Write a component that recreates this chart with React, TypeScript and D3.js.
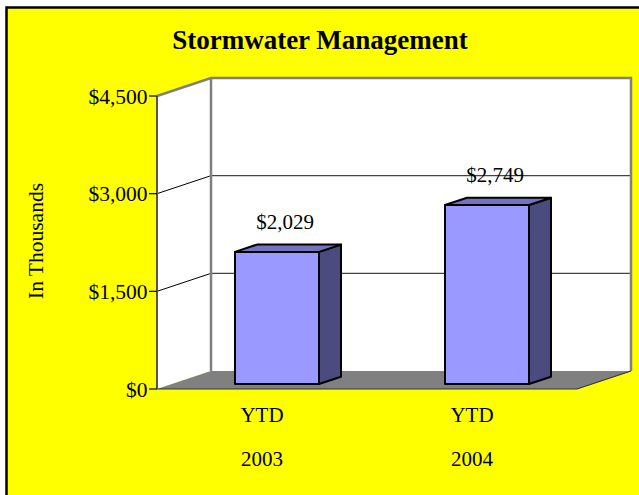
import React from "react";
import * as d3 from "d3";

const categories = ["YTD 2003", "YTD 2004"];
const categoryLines = [["YTD", "2003"], ["YTD", "2004"]];
const values = [2029, 2749];
const valueLabels = ["$2,029", "$2,749"];
const yTicks = [0, 1500, 3000, 4500];
const yTickLabels = ["$0", "$1,500", "$3,000", "$4,500"];
const title = "Stormwater Management";
const yTitle = "In Thousands";

const W = 639;
const H = 495;
const FONT = "'Liberation Serif', 'Times New Roman', serif";

export default function App() {
  const x = d3.scaleBand<string>().domain(categories).range([157, 577]);
  const y = d3.scaleLinear().domain([0, 4500]).range([389, 96]);
  const wall = { dx: 54, dy: -18 };
  const barOff = { dx: 15, dy: -5 };
  const barDepth = { dx: 22, dy: -7.3 };
  const bw = x.bandwidth() * 0.4;

  const y0 = y(0);
  const yTop = y(4500);
  const xl = x.range()[0];
  const xr = x.range()[1];

  const pts = (a: number[][]) => a.map((p) => p.join(",")).join(" ");

  return (
    <svg
      width={W}
      height={H}
      style={{ position: "absolute", left: 0, top: 0, background: "#ffffff" }}
      fontFamily={FONT}
    >
      <rect x={6.5} y={7.5} width={W} height={H} fill="#ffff00" stroke="#000" strokeWidth={2.5} />
      <text x={320} y={49} textAnchor="middle" fontSize={27} fontWeight="bold">
        {title}
      </text>

      {/* left wall */}
      <polygon
        points={pts([
          [xl, y0],
          [xl, yTop],
          [xl + wall.dx, yTop + wall.dy],
          [xl + wall.dx, y0 + wall.dy],
        ])}
        fill="#fff"
      />
      {/* back wall */}
      <rect
        x={xl + wall.dx}
        y={yTop + wall.dy}
        width={xr - xl}
        height={y0 - yTop}
        fill="#fff"
      />
      {/* floor */}
      <polygon
        points={pts([
          [xl, y0],
          [xr, y0],
          [xr + wall.dx, y0 + wall.dy],
          [xl + wall.dx, y0 + wall.dy],
        ])}
        fill="#808080"
      />
      {/* gridlines */}
      {yTicks
        .filter((t) => t > 0 && t < 4500)
        .map((t) => (
          <g key={t}>
            <line x1={xl} y1={y(t)} x2={xl + wall.dx} y2={y(t) + wall.dy} stroke="#000" strokeWidth={1} />
            <line
              x1={xl + wall.dx}
              y1={y(t) + wall.dy}
              x2={xr + wall.dx}
              y2={y(t) + wall.dy}
              stroke="#444"
              strokeWidth={1.2}
            />
          </g>
        ))}
      {/* wall edges */}
      <polyline
        points={pts([
          [xl, yTop],
          [xl + wall.dx, yTop + wall.dy],
          [xr + wall.dx, yTop + wall.dy],
          [xr + wall.dx, y0 + wall.dy],
        ])}
        fill="none"
        stroke="#808080"
        strokeWidth={2.5}
      />
      <line
        x1={xl + wall.dx}
        y1={yTop + wall.dy}
        x2={xl + wall.dx}
        y2={y0 + wall.dy}
        stroke="#808080"
        strokeWidth={2.5}
      />
      <polyline
        points={pts([
          [xl, y0],
          [xr, y0],
          [xr + wall.dx, y0 + wall.dy],
        ])}
        fill="none"
        stroke="#333"
        strokeWidth={1.2}
      />
      {/* axis */}
      <line x1={xl} y1={yTop} x2={xl} y2={y0} stroke="#555" strokeWidth={2} />
      {yTicks.map((t, i) => (
        <g key={t}>
          <line x1={xl - 8} y1={y(t)} x2={xl} y2={y(t)} stroke="#000" strokeWidth={1.2} />
          <text x={xl - 9.5} y={y(t)} dy="0.35em" textAnchor="end" fontSize={21.5}>
            {yTickLabels[i]}
          </text>
        </g>
      ))}

      {/* bars */}
      {categories.map((c, i) => {
        const fx = (x(c) as number) + x.bandwidth() / 2 - bw / 2 + barOff.dx;
        const ft = y(values[i]) + barOff.dy;
        const fb = y0 + barOff.dy;
        const fr = fx + bw;
        return (
          <g key={c} stroke="#000" strokeWidth={2} strokeLinejoin="round">
            <polygon
              points={pts([
                [fr, ft],
                [fr + barDepth.dx, ft + barDepth.dy],
                [fr + barDepth.dx, fb + barDepth.dy],
                [fr, fb],
              ])}
              fill="#4b4b80"
            />
            <polygon
              points={pts([
                [fx, ft],
                [fx + barDepth.dx, ft + barDepth.dy],
                [fr + barDepth.dx, ft + barDepth.dy],
                [fr, ft],
              ])}
              fill="#7373c0"
            />
            <rect x={fx} y={ft} width={bw} height={fb - ft} fill="#9999ff" />
            <text
              x={fx + bw / 2 + 8}
              y={ft - 23}
              textAnchor="middle"
              fontSize={21}
              stroke="none"
              fill="#000"
            >
              {valueLabels[i]}
            </text>
          </g>
        );
      })}

      {/* category labels */}
      {categories.map((c, i) => (
        <text
          key={c}
          x={(x(c) as number) + x.bandwidth() / 2}
          y={422}
          textAnchor="middle"
          fontSize={21}
        >
          <tspan x={(x(c) as number) + x.bandwidth() / 2}>{categoryLines[i][0]}</tspan>
          <tspan x={(x(c) as number) + x.bandwidth() / 2} dy={44}>
            {categoryLines[i][1]}
          </tspan>
        </text>
      ))}

      <text
        transform={`translate(43, 241) rotate(-90)`}
        textAnchor="middle"
        fontSize={21.5}
      >
        {yTitle}
      </text>
    </svg>
  );
}
